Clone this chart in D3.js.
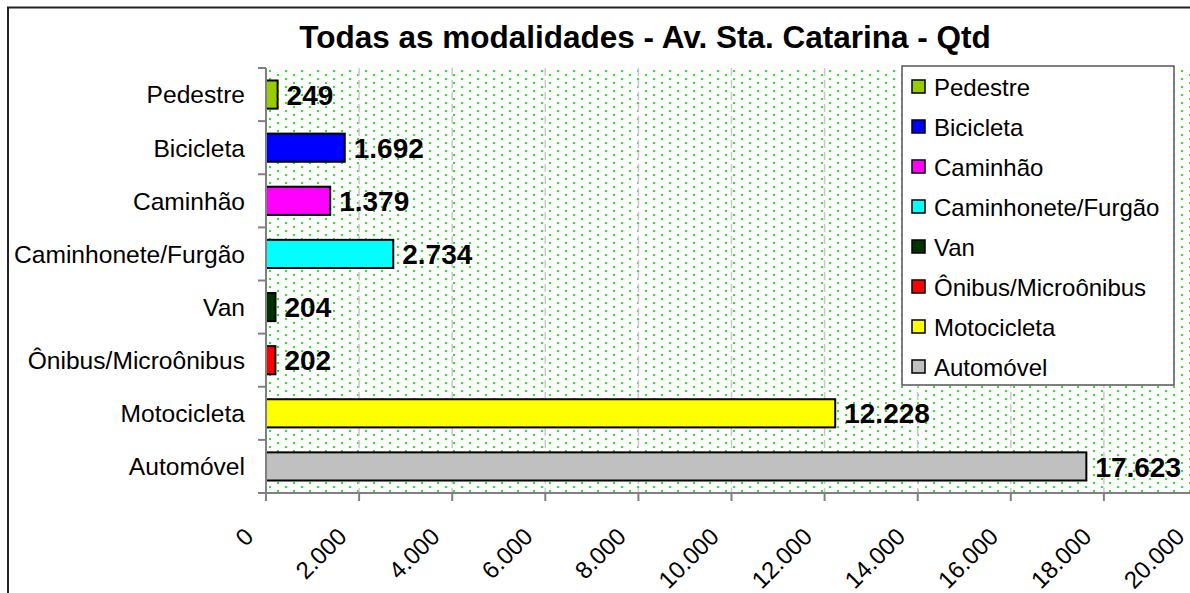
<!DOCTYPE html>
<html><head><meta charset="utf-8">
<script src="https://cdn.jsdelivr.net/npm/d3@7"></script>
<style>body{margin:0;background:#fff}svg{display:block}text{font-family:"Liberation Sans",Arial,sans-serif}</style>
</head><body><svg id="c" width="1190" height="593"></svg>
<script>
const categories = ["Pedestre","Bicicleta","Caminhão","Caminhonete/Furgão","Van","Ônibus/Microônibus","Motocicleta","Automóvel"];
const values = [249,1692,1379,2734,204,202,12228,17623];
const colors = ["#99cc00","#0000ff","#ff00ff","#00ffff","#003300","#ff0000","#ffff00","#c0c0c0"];
const xTicks = [0,2000,4000,6000,8000,10000,12000,14000,16000,18000,20000];
const title = "Todas as modalidades - Av. Sta. Catarina - Qtd";

(function(){
const svg = d3.select("#c");
const fmt = v => d3.format(",")(v).replace(/,/g,".");

const pL = 266, pR = 1197, pT = 68, pB = 493;
const x = d3.scaleLinear().domain([0,20000]).range([pL,pR]);
const y = d3.scaleBand().domain(categories).range([pT,pB]).paddingInner(0.47).paddingOuter(0.235);

const defs = svg.append("defs");
const pat = defs.append("pattern").attr("id","dots").attr("patternUnits","userSpaceOnUse")
  .attr("width",16).attr("height",8).attr("x",pL).attr("y",pT);
pat.append("rect").attr("width",16).attr("height",8).attr("fill","#fff");
pat.append("rect").attr("x",3).attr("y",2).attr("width",2).attr("height",2).attr("fill","#22ee22");
pat.append("rect").attr("x",11).attr("y",6).attr("width",2).attr("height",2).attr("fill","#22ee22");

svg.append("rect").attr("x",8).attr("y",7.5).attr("width",1200).attr("height",620)
  .attr("fill","#fff").attr("stroke","#222").attr("stroke-width",2);

svg.append("rect").attr("x",pL).attr("y",pT).attr("width",pR-pL).attr("height",pB-pT).attr("fill","url(#dots)");

svg.append("g").selectAll("line").data(xTicks.slice(1)).join("line")
  .attr("x1",d=>x(d)).attr("x2",d=>x(d)).attr("y1",pT).attr("y2",pB)
  .attr("stroke","#c8c8c8").attr("stroke-width",1.5).attr("stroke-dasharray","8,4");

svg.append("text").attr("x",645).attr("y",48).attr("text-anchor","middle")
  .attr("font-size",31.5).attr("font-weight","bold").text(title);

svg.append("g").selectAll("rect").data(categories).join("rect")
  .attr("x",x(0)).attr("y",d=>y(d)).attr("width",(d,i)=>x(values[i])-x(0)).attr("height",y.bandwidth())
  .attr("fill",(d,i)=>colors[i]).attr("stroke","#000").attr("stroke-width",2);

svg.append("g").selectAll("text").data(categories).join("text")
  .attr("x",(d,i)=>x(values[i])+9).attr("y",d=>y(d)+y.bandwidth()/2).attr("dy","0.36em")
  .attr("font-size",28).attr("font-weight","bold").text((d,i)=>fmt(values[i]));

const ya = svg.append("g");
ya.append("line").attr("x1",pL).attr("x2",pL).attr("y1",pT).attr("y2",pB+8).attr("stroke","#808080").attr("stroke-width",2);
const bounds = d3.range(categories.length+1).map(i=>pT + i*(pB-pT)/categories.length);
ya.selectAll("line.t").data(bounds).join("line").attr("class","t")
  .attr("x1",pL-8).attr("x2",pL).attr("y1",d=>d).attr("y2",d=>d).attr("stroke","#808080").attr("stroke-width",2);
ya.selectAll("text").data(categories).join("text")
  .attr("x",245).attr("y",d=>y(d)+y.bandwidth()/2).attr("dy","0.36em").attr("text-anchor","end")
  .attr("font-size",24.6).text(d=>d);

const xa = svg.append("g");
xa.append("line").attr("x1",pL).attr("x2",pR).attr("y1",pB).attr("y2",pB).attr("stroke","#808080").attr("stroke-width",2);
xa.selectAll("line.t").data(xTicks).join("line").attr("class","t")
  .attr("x1",d=>x(d)).attr("x2",d=>x(d)).attr("y1",pB).attr("y2",pB+8).attr("stroke","#808080").attr("stroke-width",2);
xa.selectAll("text").data(xTicks).join("text")
  .attr("transform",d=>`translate(${x(d)-11},${pB+45}) rotate(-45)`)
  .attr("text-anchor","end").attr("font-size",24).text(d=>fmt(d));

const lg = svg.append("g");
lg.append("rect").attr("x",902).attr("y",66).attr("width",272).attr("height",319)
  .attr("fill","#fff").attr("stroke","#555").attr("stroke-width",1.5);
const li = lg.selectAll("g").data(categories).join("g")
  .attr("transform",(d,i)=>`translate(912,${80+i*40})`);
li.append("rect").attr("width",13).attr("height",13).attr("fill",(d,i)=>colors[i]).attr("stroke","#000").attr("stroke-width",1.5);
li.append("text").attr("x",22).attr("y",7).attr("dy","0.36em").attr("font-size",24).text(d=>d);
})();
</script></body></html>
